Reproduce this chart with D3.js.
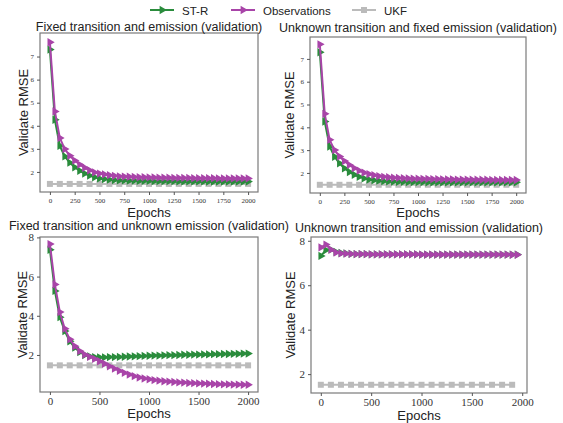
<!DOCTYPE html>
<html><head><meta charset="utf-8">
<script src="https://cdn.jsdelivr.net/npm/d3@7"></script>
<style>body{margin:0;background:#fff}svg{display:block}</style>
</head><body>
<svg id="c" width="563" height="423"></svg>
<script>
// ---------- data ----------
const seriesNames = ["ST-R", "Observations", "UKF"];
const panelTitles = [
  "Fixed transition and emission (validation)",
  "Unknown transition and fixed emission (validation)",
  "Fixed transition and unknown emission (validation)",
  "Unknown transition and emission (validation)"
];
const epochsFull = d3.range(0, 2001, 50);   // 41 points
const epochsShort = d3.range(0, 1951, 50);  // 40 points
const ukfEpochsFull = d3.range(0, 2001, 100);
const ukfEpochsShort = d3.range(0, 1901, 100);

const str1 = [7.30,4.26,3.13,2.67,2.40,2.20,2.05,1.93,1.84,1.77,
              1.72,1.69,1.67,1.65,1.64,1.63,1.62,1.62,1.61,1.61,
              1.61,1.60,1.60,1.60,1.60,1.60,1.59,1.59,1.59,1.59,
              1.59,1.59,1.58,1.58,1.58,1.58,1.58,1.58,1.58,1.58,1.58];
const obs1 = [7.62,4.62,3.47,2.99,2.70,2.49,2.32,2.18,2.07,1.98,
              1.93,1.89,1.86,1.83,1.81,1.80,1.79,1.78,1.77,1.77,
              1.76,1.76,1.75,1.75,1.75,1.74,1.74,1.74,1.74,1.73,
              1.73,1.73,1.73,1.73,1.72,1.72,1.72,1.72,1.72,1.72,1.72];
const ukf1 = [1.48,1.48,1.48,1.48,1.48,1.48,1.48,1.48,1.48,1.48,1.48,
              1.48,1.48,1.48,1.48,1.48,1.48,1.48,1.48,1.48,1.48];

const str2 = [7.29,4.25,3.16,2.71,2.42,2.20,2.04,1.92,1.83,1.76,
              1.71,1.68,1.66,1.64,1.63,1.62,1.61,1.61,1.60,1.60,
              1.60,1.60,1.59,1.59,1.59,1.59,1.59,1.59,1.59,1.59,
              1.59,1.59,1.59,1.59,1.59,1.59,1.59,1.59,1.59,1.59,1.59];
const obs2 = [7.64,4.59,3.45,3.00,2.72,2.52,2.35,2.21,2.10,2.01,
              1.95,1.90,1.86,1.83,1.81,1.79,1.78,1.77,1.76,1.75,
              1.75,1.74,1.74,1.73,1.73,1.72,1.72,1.72,1.71,1.71,
              1.71,1.70,1.70,1.70,1.70,1.69,1.69,1.69,1.69,1.69,1.69];
const ukf2 = [1.48,1.48,1.48,1.48,1.48,1.48,1.48,1.48,1.48,1.48,1.48,
              1.48,1.48,1.48,1.48,1.48,1.48,1.48,1.48,1.48,1.48];

const str3 = [7.37,5.27,3.93,3.22,2.70,2.38,2.15,2.00,1.93,1.89,
              1.88,1.88,1.89,1.89,1.90,1.91,1.92,1.93,1.94,1.95,
              1.96,1.97,1.97,1.98,1.99,1.99,2.00,2.01,2.01,2.02,
              2.02,2.03,2.03,2.04,2.04,2.05,2.05,2.06,2.06,2.07,2.07];
const obs3 = [7.66,5.60,4.19,3.34,2.80,2.45,2.20,2.02,1.90,1.80,
              1.68,1.55,1.42,1.30,1.19,1.09,1.00,0.92,0.85,0.80,
              0.76,0.72,0.69,0.66,0.64,0.62,0.60,0.59,0.57,0.56,
              0.55,0.54,0.53,0.52,0.51,0.50,0.50,0.49,0.49,0.48,0.48];
const ukf3 = [1.47,1.47,1.47,1.47,1.47,1.47,1.47,1.47,1.47,1.47,1.47,
              1.47,1.47,1.47,1.47,1.47,1.47,1.47,1.47,1.47,1.47];

const str4 = [7.32,7.58,7.60,7.50,7.45,7.43,7.41,7.40,7.40,7.40,
              7.39,7.39,7.39,7.39,7.39,7.39,7.39,7.39,7.39,7.39,
              7.38,7.38,7.38,7.38,7.38,7.38,7.38,7.38,7.38,7.38,
              7.38,7.38,7.38,7.38,7.38,7.38,7.38,7.38,7.38,7.38];
const obs4 = [7.70,7.83,7.60,7.47,7.43,7.42,7.41,7.40,7.40,7.40,
              7.39,7.39,7.39,7.39,7.39,7.39,7.39,7.39,7.39,7.39,
              7.38,7.38,7.38,7.38,7.38,7.38,7.38,7.38,7.38,7.38,
              7.38,7.38,7.38,7.38,7.38,7.38,7.38,7.38,7.37,7.37];
const ukf4 = [1.52,1.52,1.52,1.52,1.52,1.52,1.52,1.52,1.52,1.52,
              1.52,1.52,1.52,1.52,1.52,1.52,1.52,1.52,1.52,1.52];

const xTicksDense = [0,250,500,750,1000,1250,1500,1750,2000];
const xTicksSparse = [0,500,1000,1500,2000];
const yTicksTop = [2,3,4,5,6,7];
const yTicksBottom = [2,4,6,8];

// ---------- style / layout ----------
const colors = {"ST-R":"#2a8c3c","Observations":"#a844a8","UKF":"#bbbbbb"};
const sansFont = "'Liberation Sans', Arial, sans-serif";
const serifFont = "'Liberation Serif', 'DejaVu Serif', serif";

const panels = [
  {box:[40,258,33,192], xdom:[-100,2100], ydom:[1.13,8.02], xt:xTicksDense, yt:yTicksTop, tfs:7,
   ep:epochsFull, uep:ukfEpochsFull, s:str1, o:obs1, u:ukf1, ylx:23, ty:31, ey:217},
  {box:[310,526,37,193], xdom:[-100,2100], ydom:[1.12,7.96], xt:xTicksDense, yt:yTicksTop, tfs:7,
   ep:epochsFull, uep:ukfEpochsFull, s:str2, o:obs2, u:ukf2, ylx:289, ty:32, ey:217},
  {box:[40,258,237,392], xdom:[-100,2100], ydom:[0.11,8.02], xt:xTicksSparse, yt:yTicksBottom, tfs:11,
   ep:epochsFull, uep:ukfEpochsFull, s:str3, o:obs3, u:ukf3, ylx:22, ty:230, ey:418},
  {box:[311,527,237,393], xdom:[-97.5,2047.5], ydom:[1.15,8.17], xt:xTicksSparse, yt:yTicksBottom, tfs:11,
   ep:epochsShort, uep:ukfEpochsShort, s:str4, o:obs4, u:ukf4, ylx:290, ty:232, ey:420}
];

const svg = d3.select("#c");
const tri = d3.symbol().type(d3.symbolTriangle).size(30)();
const sq = d3.symbol().type(d3.symbolSquare).size(36)();

panels.forEach((p, i) => {
  const [x0,x1,y0,y1] = p.box;
  const x = d3.scaleLinear().domain(p.xdom).range([x0,x1]);
  const y = d3.scaleLinear().domain(p.ydom).range([y1,y0]);
  const g = svg.append("g");

  const clipId = "clip"+i;
  g.append("clipPath").attr("id", clipId).append("rect")
    .attr("x", x0).attr("y", y0).attr("width", x1-x0).attr("height", y1-y0);
  const plot = g.append("g").attr("clip-path", `url(#${clipId})`);

  const line = d3.line().x(d=>x(d[0])).y(d=>y(d[1]));

  // UKF
  const ukfData = p.uep.map((e,k)=>[e,p.u[k]]);
  plot.append("path").attr("d", line(ukfData)).attr("fill","none")
    .attr("stroke", colors.UKF).attr("stroke-width",2);
  plot.selectAll(null).data(ukfData).enter().append("path")
    .attr("d", sq).attr("transform", d=>`translate(${x(d[0])},${y(d[1])})`)
    .attr("fill", colors.UKF);

  // ST-R and Observations
  [["ST-R", p.s], ["Observations", p.o]].forEach(([name, vals]) => {
    const data = p.ep.map((e,k)=>[e, vals[k]]);
    plot.append("path").attr("d", line(data)).attr("fill","none")
      .attr("stroke", colors[name]).attr("stroke-width",2);
    plot.selectAll(null).data(data).enter().append("path")
      .attr("d", tri).attr("transform", d=>`translate(${x(d[0])},${y(d[1])}) rotate(90)`)
      .attr("fill", colors[name]);
  });

  // frame
  g.append("rect").attr("x",x0).attr("y",y0).attr("width",x1-x0).attr("height",y1-y0)
    .attr("fill","none").attr("stroke","#7a7a7a").attr("stroke-width",1.2);

  // x axis
  const xa = g.append("g").attr("transform",`translate(0,${y1})`)
    .call(d3.axisBottom(x).tickValues(p.xt).tickSize(3).tickPadding(p.tfs>8?2:3).tickFormat(d3.format("d")));
  xa.select(".domain").remove();
  xa.selectAll("line").attr("stroke","#555");
  xa.selectAll("text").attr("font-family",serifFont).attr("font-size",p.tfs).attr("fill","#333");

  const ya = g.append("g").attr("transform",`translate(${x0},0)`)
    .call(d3.axisLeft(y).tickValues(p.yt).tickSize(3).tickPadding(3).tickFormat(d3.format("d")));
  ya.select(".domain").remove();
  ya.selectAll("line").attr("stroke","#555");
  ya.selectAll("text").attr("font-family",serifFont).attr("font-size",p.tfs).attr("fill","#333");

  // title
  g.append("text").attr("x",(x0+x1)/2).attr("y",p.ty).attr("text-anchor","middle")
    .attr("font-family",sansFont).attr("font-size",12.5).attr("fill","#222")
    .text(panelTitles[i]);
  // labels
  g.append("text").attr("x",(x0+x1)/2).attr("y", p.ey).attr("text-anchor","middle")
    .attr("font-family",sansFont).attr("font-size",13).attr("fill","#222").text("Epochs");
  g.append("text").attr("transform",`translate(${p.ylx+5},${(y0+y1)/2}) rotate(-90)`)
    .attr("text-anchor","middle").attr("font-family",sansFont).attr("font-size",13)
    .attr("fill","#222").text("Validate RMSE");
});

// legend
const legendX = [150, 231, 352];
seriesNames.forEach((name, k) => {
  const lx = legendX[k], ly = 10;
  const lg = svg.append("g");
  lg.append("line").attr("x1",lx).attr("x2",lx+24).attr("y1",ly).attr("y2",ly)
    .attr("stroke",colors[name]).attr("stroke-width",2);
  lg.append("path").attr("d", name==="UKF"?sq:tri)
    .attr("transform", name==="UKF"?`translate(${lx+12},${ly})`:`translate(${lx+12},${ly}) rotate(90)`)
    .attr("fill", colors[name]);
  lg.append("text").attr("x",lx+32).attr("y",ly+4.5).attr("font-family",sansFont)
    .attr("font-size",11.5).attr("fill","#222").text(name);
});
</script>
</body></html>
